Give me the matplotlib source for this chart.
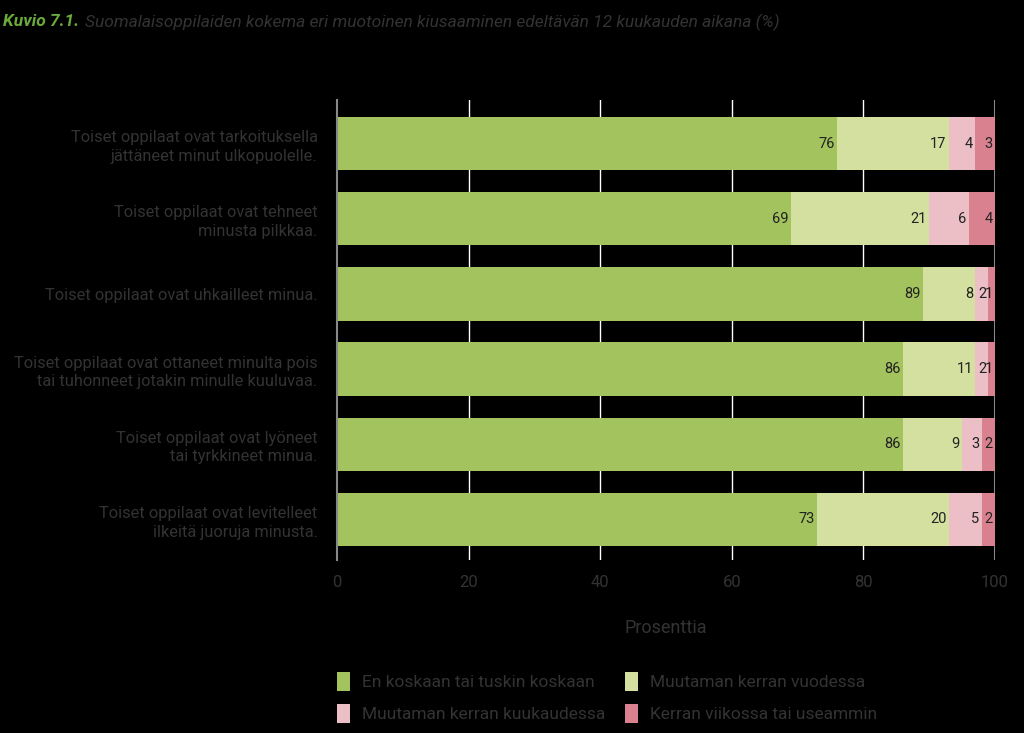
import numpy as np
from matplotlib import pyplot as plt
from matplotlib.patches import Patch

kysymykset = [
    "Toiset oppilaat ovat tarkoituksella\njättäneet minut ulkopuolelle.",
    "Toiset oppilaat ovat tehneet\nminusta pilkkaa.",
    "Toiset oppilaat ovat uhkailleet minua.",
    "Toiset oppilaat ovat ottaneet minulta pois\ntai tuhonneet jotakin minulle kuuluvaa.",
    "Toiset oppilaat ovat lyöneet\ntai tyrkkineet minua.",
    "Toiset oppilaat ovat levitelleet\nilkeitä juoruja minusta.",
]
luokat = ["En koskaan tai tuskin koskaan", "Muutaman kerran vuodessa",
          "Muutaman kerran kuukaudessa", "Kerran viikossa tai useammin"]
en_koskaan = [76, 69, 89, 86, 86, 73]
vuodessa = [17, 21, 8, 11, 9, 20]
kuukaudessa = [4, 6, 2, 2, 3, 5]
viikossa = [3, 4, 1, 1, 2, 2]
xtiket = [0, 20, 40, 60, 80, 100]

varit = ['#a3c35e', '#d3e0a0', '#ecbec6', '#d9818f']
tekstivari = '#333333'

plt.rcParams['font.family'] = ['Roboto', 'DejaVu Sans']

fig = plt.figure(figsize=(10.24, 7.33), dpi=100, facecolor='black')
ax = fig.add_axes([337/1024, 1 - 560/733, (995-337)/1024, (560-100)/733])
ax.set_facecolor('black')

y = np.arange(len(kysymykset))
sarjat = [en_koskaan, vuodessa, kuukaudessa, viikossa]
vasen = np.zeros(len(y))
for arvot, vari in zip(sarjat, varit):
    arvot = np.array(arvot)
    ax.barh(y, arvot, left=vasen, height=0.71, color=vari, zorder=2)
    for yi, v, l in zip(y, arvot, vasen):
        ax.text(l + v - 0.35, yi, str(v), ha='right', va='center',
                fontsize=10.5, color='#222222', zorder=3)
    vasen = vasen + arvot

ax.set_xlim(0, 100)
ax.set_ylim(5.54, -0.58)
ax.set_xticks(xtiket)
ax.set_xticklabels([str(t) for t in xtiket], fontsize=12, color=tekstivari)
ax.set_yticks(y)
ax.set_yticklabels(kysymykset, fontsize=11.8, color=tekstivari, linespacing=1.3)
ax.tick_params(axis='x', length=0, pad=11)
ax.tick_params(axis='y', length=0, pad=14)
for t in xtiket[1:-1]:
    ax.axvline(t, color='white', lw=1, zorder=1)
ax.axvline(100, color='#888888', lw=1.5, zorder=1)
for s in ['top', 'right', 'bottom']:
    ax.spines[s].set_visible(False)
ax.spines['left'].set_color('#888888')
ax.spines['left'].set_linewidth(1.5)
ax.set_xlabel('Prosenttia', fontsize=13, color=tekstivari, labelpad=21)

otsikko = fig.text(0.003, 1 - 22/733, 'Kuvio 7.1.', fontsize=12.5, color='#6aaa3a',
                   fontweight='bold', fontstyle='italic', va='center')
ax.annotate('Suomalaisoppilaiden kokema eri muotoinen kiusaaminen edeltävän 12 kuukauden aikana (%)',
            xy=(1, 0.5), xycoords=otsikko, xytext=(4, 0), textcoords='offset points',
            fontsize=12.5, color=tekstivari, fontstyle='italic', va='center',
            annotation_clip=False)

kasittelijat = [Patch(facecolor=v, edgecolor='none') for v in varit]
jarjestys = [0, 2, 1, 3]
fig.legend([kasittelijat[i] for i in jarjestys], [luokat[i] for i in jarjestys],
           ncol=2, loc='upper left',
           bbox_to_anchor=(337/1024, 1 - 672/733), frameon=False,
           borderpad=0, borderaxespad=0,
           fontsize=12.5, labelcolor=tekstivari, handlelength=0.75,
           handleheight=1.3, handletextpad=0.7, columnspacing=1.1,
           labelspacing=0.75)

fig.savefig('out.png', dpi=100, facecolor='black')
